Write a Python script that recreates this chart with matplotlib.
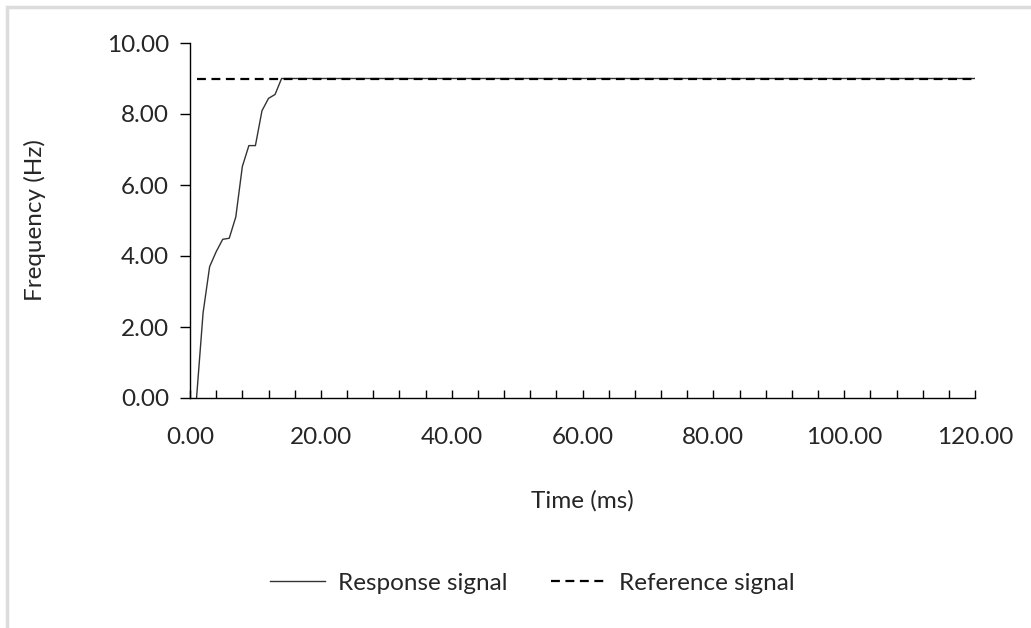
import numpy as np
import matplotlib.pyplot as plt
from matplotlib.lines import Line2D
from matplotlib.patches import Rectangle
from matplotlib.ticker import MultipleLocator

# data
time_ms = [1, 2, 3, 4, 5, 6, 7, 8, 9, 10, 11, 12, 13, 14, 120]
response_hz = [0.0, 2.4, 3.7, 4.12, 4.47, 4.5, 5.1, 6.52, 7.11, 7.11, 8.09, 8.44, 8.55, 9.0, 9.0]
ref_time = [1, 120]
ref_hz = [9.0, 9.0]

plt.rcParams['font.family'] = ['Lato', 'DejaVu Sans']
plt.rcParams['font.size'] = 17.5
plt.rcParams['text.color'] = '#262626'
plt.rcParams['axes.labelcolor'] = '#262626'

W, H = 1031, 628
fig = plt.figure(figsize=(W / 100, H / 100), dpi=100)
fig.patches.append(Rectangle((7 / W, -0.1), 1.2, 1 - 7 / H + 0.1,
                             transform=fig.transFigure, fill=False,
                             edgecolor='#dcdcdc', linewidth=2.5))

ax = fig.add_axes([190 / W, 1 - 398 / H, (975 - 190) / W, (398 - 43) / H])
ax.plot(time_ms, response_hz, color='#333333', linewidth=1.0)
ax.plot(ref_time, ref_hz, color='black', linewidth=1.6, linestyle=(0, (4, 2.5)))

ax.set_xlim(0, 120)
ax.set_ylim(0, 10)
ax.xaxis.set_major_locator(MultipleLocator(20))
ax.xaxis.set_minor_locator(MultipleLocator(4))
ax.yaxis.set_major_locator(MultipleLocator(2))
ax.xaxis.set_major_formatter(lambda v, p: f"{v:.2f}")
ax.yaxis.set_major_formatter(lambda v, p: f"{v:.2f}")
ax.tick_params(axis='x', which='both', direction='in', length=6, width=1, pad=21,
               color='black', labelcolor='#262626')
ax.tick_params(axis='y', direction='out', length=7, width=1, pad=8,
               color='black', labelcolor='#262626')
for s in ['top', 'right']:
    ax.spines[s].set_visible(False)
ax.spines['left'].set_linewidth(1)
ax.spines['bottom'].set_linewidth(1)

ax.set_xlabel("Time (ms)", labelpad=30)
ax.set_ylabel("Frequency (Hz)", labelpad=44)

handles = [Line2D([], [], color='#333333', linewidth=1.0),
           Line2D([], [], color='black', linewidth=1.6, linestyle=(0, (4, 2.5)))]
fig.legend(handles, ["Response signal", "Reference signal"], loc='center',
           bbox_to_anchor=(532 / W, 1 - 583 / H), ncol=2, frameon=False,
           handlelength=2.3, handletextpad=0.5, columnspacing=1.8)

fig.savefig("out.png", dpi=100)
